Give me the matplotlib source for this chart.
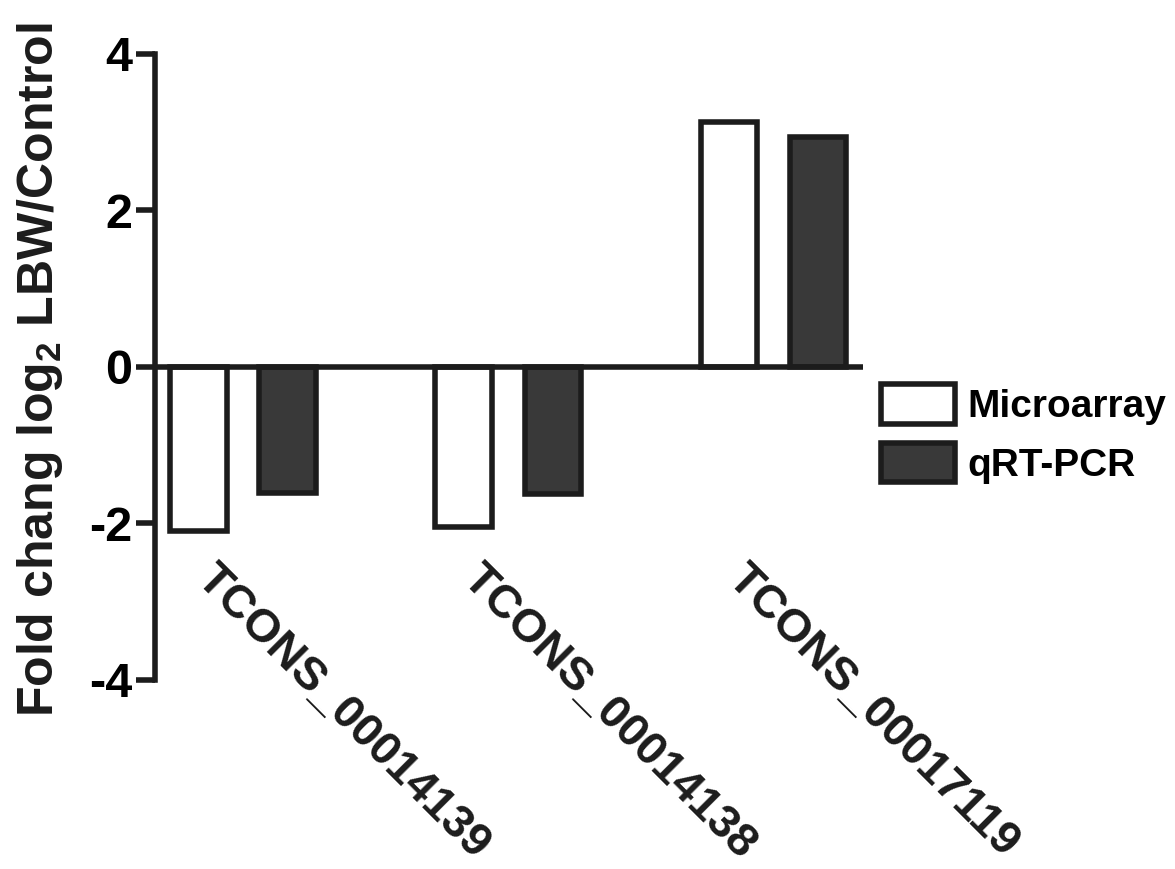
import matplotlib
matplotlib.use("Agg")
import matplotlib.pyplot as plt
import numpy as np

plt.rcParams['font.family'] = ['Liberation Sans', 'DejaVu Sans']
plt.rcParams['font.weight'] = 'bold'
plt.rcParams['axes.unicode_minus'] = False
plt.rcParams['mathtext.fontset'] = 'custom'
plt.rcParams['mathtext.rm'] = 'Liberation Sans:bold'
plt.rcParams['mathtext.bf'] = 'Liberation Sans:bold'

transcripts = ['TCONS_00014139', 'TCONS_00014138', 'TCONS_00017119']
microarray = [-2.10, -2.04, 3.13]
qrt_pcr = [-1.61, -1.62, 2.94]
series_names = ['Microarray', 'qRT-PCR']

ink = '#1c1c1c'
dark = '#393939'
lw = 4.0

fig = plt.figure(figsize=(11.75, 8.69), dpi=100)
ax = fig.add_axes([0.1319, 0.2175, 0.7345 - 0.1319, 0.9379 - 0.2175])

x = np.arange(len(transcripts))
width = 0.213
off = 0.168
b1 = ax.bar(x - off, microarray, width, color='white', edgecolor=ink,
            linewidth=lw, label=series_names[0], zorder=2)
b2 = ax.bar(x + off, qrt_pcr, width, color=dark, edgecolor=ink,
            linewidth=lw, label=series_names[1], zorder=2)
ax.axhline(0, color=ink, linewidth=lw, zorder=3)

ax.set_xlim(-0.332, 2.338)
ax.set_ylim(-4, 4)
ax.set_yticks([-4, -2, 0, 2, 4])
ax.set_xticks([])
for s in ['top', 'right', 'bottom']:
    ax.spines[s].set_visible(False)
ax.spines['left'].set_linewidth(lw)
ax.spines['left'].set_color(ink)
ax.spines['left'].set_capstyle('projecting')
ax.tick_params(axis='y', direction='out', length=13.5, width=lw, color=ink,
               labelsize=35, pad=3)
for t in ax.get_yticklabels():
    t.set_fontweight('bold')

# category names hang diagonally below the bars
for i, name in enumerate(transcripts):
    ax.text(i - 0.09, -2.42, name, rotation=-45, rotation_mode='anchor',
            ha='left', va='top', fontsize=33.5, fontweight='bold', color=ink)

fig.text(0.034, 0.575, r'Fold chang log$\mathregular{_2}$ LBW/Control',
         rotation=90, ha='center', va='center', fontsize=36,
         fontweight='bold', color=ink)

fig.legend(handles=[b1, b2], loc='upper left',
           bbox_to_anchor=(0.7336, 0.5800), frameon=False, borderpad=0,
           handlelength=1.9, handleheight=1.19,
           handletextpad=0.3, labelspacing=0.45,
           prop={'weight': 'bold', 'size': 28})

fig.savefig('out.png', dpi=100)
